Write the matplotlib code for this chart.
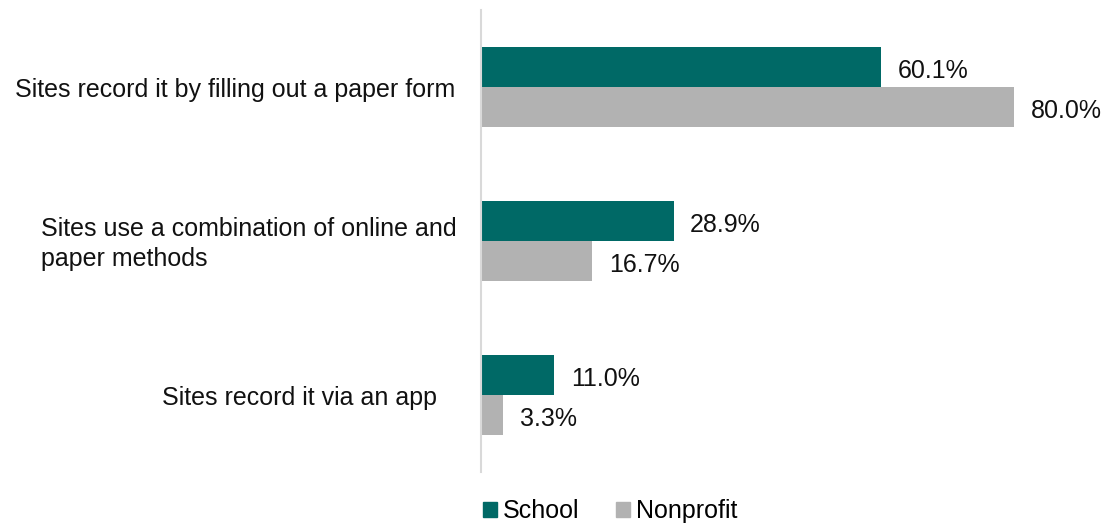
import numpy as np
import matplotlib.pyplot as plt
import matplotlib.transforms as mtransforms
from matplotlib.patches import Patch

categories = [
    "Sites record it by filling out a paper form",
    "Sites use a combination of online and\npaper methods",
    "Sites record it via an app",
]
school = [60.1, 28.9, 11.0]
nonprofit = [80.0, 16.7, 3.3]

teal = "#006966"
grey = "#B2B2B2"
ink = "#111111"

plt.rcParams['font.family'] = ['Liberation Sans', 'DejaVu Sans']

W, H = 1107, 525
fig = plt.figure(figsize=(W / 100, H / 100), dpi=100)
ax = fig.add_axes([481 / W, 1 - 472 / H, 619 / W, 462 / H])

y = np.arange(len(categories))
h = 40 / 154
ax.barh(y - h / 2, school, height=h, color=teal)
ax.barh(y + h / 2, nonprofit, height=h, color=grey)

# value labels sit a few pixels below the bar centre
val_trans = mtransforms.offset_copy(ax.transData, fig=fig, y=-4, units="dots")
for yi, v in zip(y, school):
    ax.text(v + 2.5, yi - h / 2, f"{v:.1f}%", va="center", ha="left",
            fontsize=18, color=ink, transform=val_trans)
for yi, v in zip(y, nonprofit):
    ax.text(v + 2.5, yi + h / 2, f"{v:.1f}%", va="center", ha="left",
            fontsize=18, color=ink, transform=val_trans)

ax.set_xlim(0, 619 / (533 / 80))
ax.set_ylim(2.5, -0.5)
ax.set_yticks([])
ax.set_xticks([])

# category labels, right edge a little left of the axis line
trans = mtransforms.blended_transform_factory(ax.transAxes, ax.transData)
trans = mtransforms.offset_copy(trans, fig=fig, y=-3, units="dots")
right_edges = [455, 457, 437]
for yi, lab, xr in zip(y, categories, right_edges):
    ax.text((xr - 481) / 619, yi, lab, transform=trans, ha="right", va="center",
            multialignment="left", fontsize=18, color=ink, linespacing=1.3)

for s in ["top", "right", "bottom"]:
    ax.spines[s].set_visible(False)
ax.spines["left"].set_color("#d9d9d9")
ax.spines["left"].set_linewidth(1.5)

handles = [Patch(color=teal, label="School"), Patch(color=grey, label="Nonprofit")]
fig.legend(handles=handles, loc="center", bbox_to_anchor=(610 / W, 1 - 511 / H),
           ncol=2, frameon=False, fontsize=18, handlelength=0.56, handleheight=0.56,
           handletextpad=0.25, columnspacing=1.45, borderpad=0)

fig.savefig("out.png", dpi=100)
